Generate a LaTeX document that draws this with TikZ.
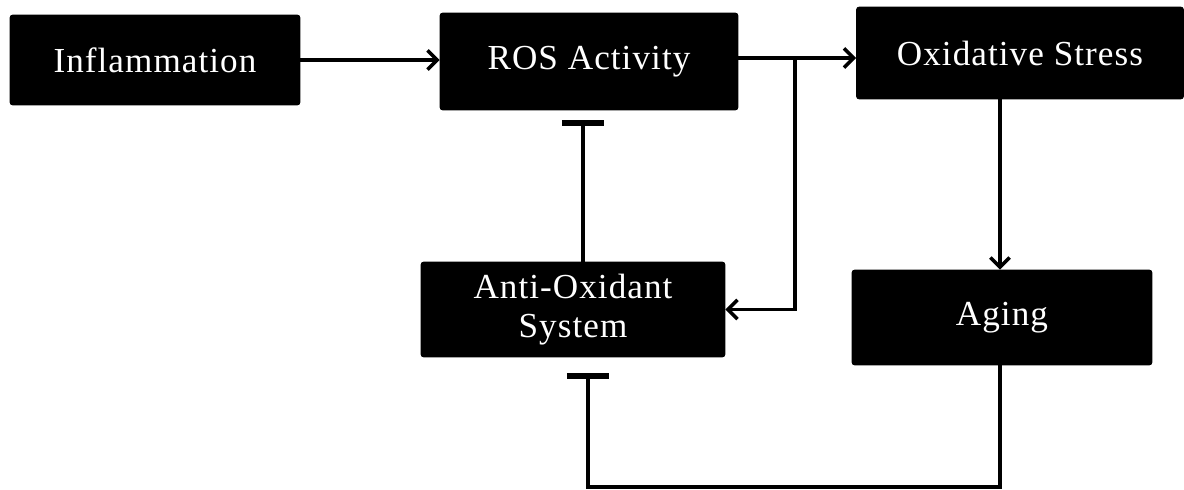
\documentclass[tikz,border=0pt]{standalone}
\usepackage{fontspec}
\setmainfont[LetterSpace=3]{Liberation Serif}
\usetikzlibrary{arrows.meta}
\usetikzlibrary{positioning}

\begin{document}
\begin{tikzpicture}[x=0.02cm,y=-0.02cm,
  blackbox/.style={rectangle,rounded corners=1.5pt,fill=black,draw=black,text=white,
    font=\fontsize{20}{22}\selectfont,align=center,inner sep=0pt},
  link/.style={line width=2pt,-{Straight Barb[length=5.5pt,width=11pt,line width=2pt]}},
  inhibit/.style={line width=2pt,-{Bar[width=24pt,line width=3.2pt]}}]
\useasboundingbox (0,0) rectangle (1184,490);
% boxes
\node[blackbox,minimum width=5.8cm,minimum height=1.8cm] (inflam) at (155,60) {Inflammation};
\node[blackbox,minimum width=5.96cm,minimum height=1.94cm] (ros) at (589,61.5) {ROS Activity};
\node[blackbox,minimum width=6.54cm,minimum height=1.84cm] (oxid) at (1020,53) {Oxidative Stress};
\node[blackbox,minimum width=6.08cm,minimum height=1.9cm] (anti) at (573,309.5) {Anti-Oxidant\\System};
\node[blackbox,minimum width=6cm,minimum height=1.9cm] (aging) at (1002,317.5) {Aging};
\coordinate (split) at (795,58);
\coordinate (loop) at (1000,487);
% connectors
\draw[link] (inflam.east) -- (inflam.east -| ros.west);
\draw[line width=2pt] (ros.east |- split) -- (split);
\draw[link] (split) -- (split -| oxid.west);
\draw[link] (split) |- (anti.east);
\draw[link] (oxid.south -| loop) -- (aging.north -| loop);
\draw[inhibit,shorten >=0.2cm] ([xshift=0.2cm]anti.north) -- ([xshift=0.2cm]anti.north |- ros.south);
\draw[inhibit,shorten >=0.32cm] (aging.south -| loop) -- (loop) -| ([xshift=0.3cm]anti.south);
\end{tikzpicture}
\end{document}
